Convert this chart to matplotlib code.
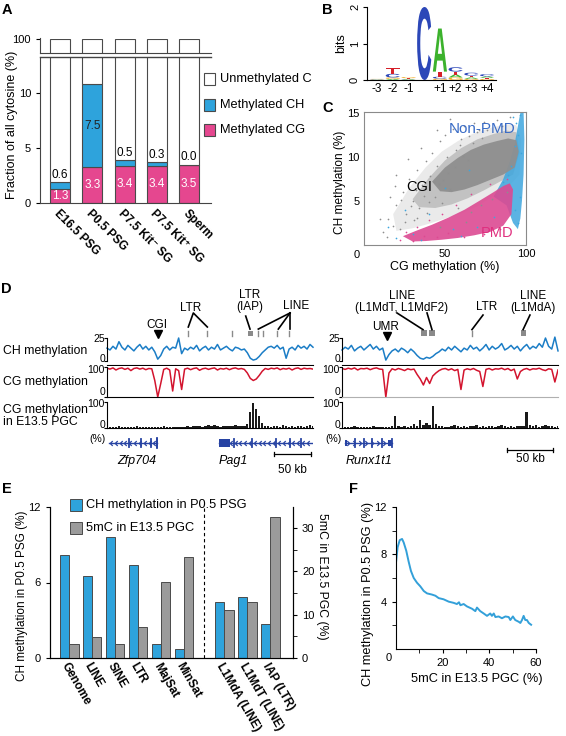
import matplotlib
matplotlib.use('Agg')
import matplotlib.pyplot as plt
import numpy as np
from matplotlib.patches import Rectangle, PathPatch, Polygon
from matplotlib.textpath import TextPath
from matplotlib.font_manager import FontProperties
from matplotlib.transforms import Affine2D
from matplotlib.path import Path

plt.rcParams['font.family'] = ['Liberation Sans', 'DejaVu Sans']
plt.rcParams['font.size'] = 8.5
plt.rcParams['axes.linewidth'] = 0.8
plt.rcParams['xtick.labelsize'] = 8
plt.rcParams['ytick.labelsize'] = 8

# ---------------- data ----------------
# A: fraction of methylated cytosine
samples = ['E16.5 PSG', 'P0.5 PSG', 'P7.5 Kit\u207b SG', 'P7.5 Kit\u207a SG', 'Sperm']
meth_cg = [1.3, 3.3, 3.4, 3.4, 3.5]
meth_ch = [0.6, 7.5, 0.5, 0.3, 0.0]

# B: sequence logo (bits)
logo_labels = ['-3', '-2', '-1', '', '+1', '+2', '+3', '+4']
bits_A = [0.01, 0.03, 0.02, 0.00, 1.18, 0.08, 0.04, 0.04]
bits_C = [0.01, 0.10, 0.01, 2.00, 0.05, 0.12, 0.08, 0.06]
bits_G = [0.01, 0.04, 0.03, 0.00, 0.04, 0.07, 0.03, 0.03]
bits_T = [0.01, 0.15, 0.02, 0.00, 0.14, 0.08, 0.05, 0.03]

# C: CG vs CH methylation clouds (envelopes + sparse points)
gray_halo_cg = [18, 28, 38, 48, 58, 68, 78, 88, 94, 97, 96, 90, 80, 70, 60, 50, 40, 30, 20]
gray_halo_ch = [3.5, 6.5, 8.8, 10.6, 11.8, 12.7, 13.3, 13.7, 13.6, 12.0, 8.0, 6.8, 5.6, 4.4, 3.6, 3.0, 2.4, 1.9, 1.6]
gray_mid_cg = [30, 40, 50, 60, 70, 80, 88, 94, 96, 92, 84, 74, 64, 54, 44, 34]
gray_mid_ch = [5.2, 7.6, 9.6, 11.0, 12.0, 12.6, 13.0, 12.8, 10.5, 8.0, 7.2, 6.2, 5.3, 4.6, 4.2, 4.3]
gray_core_cg = [42, 50, 58, 66, 74, 82, 89, 94, 95.5, 93, 86, 78, 70, 62, 54, 47]
gray_core_ch = [7.2, 8.8, 9.9, 10.8, 11.4, 11.8, 12.1, 11.9, 10.6, 8.8, 8.0, 7.4, 6.8, 6.3, 6.0, 6.1]
blue_band_cg = [80, 86, 90, 93, 95, 96.5, 98.5, 99, 98.5, 97.5, 96.5, 95, 92, 88]
blue_band_ch = [5.5, 7.5, 9.5, 11.5, 13.5, 15.0, 15.1, 12.0, 8.0, 5.0, 3.0, 1.8, 2.5, 4.5]
pink_core_cg = [24, 32, 42, 52, 62, 72, 80, 86, 90, 92, 91, 86, 78, 68, 58, 48, 38, 30]
pink_core_ch = [1.0, 1.6, 2.3, 3.1, 4.0, 5.1, 6.0, 6.7, 7.0, 6.3, 3.5, 2.2, 1.5, 1.1, 0.8, 0.6, 0.45, 0.4]
gray_pts_cg = [12, 15, 18, 20, 22, 24, 26, 28, 30, 31, 33, 34, 36, 38, 39, 41, 42, 44, 45, 47, 48, 50, 52, 53, 55,
               57, 58, 60, 62, 64, 66, 68, 70, 72, 74, 76, 79, 82, 85, 88, 90, 20, 16, 35, 45, 27, 10, 53, 63, 47,
               23, 29, 32, 37, 43, 49, 56, 61, 67, 73, 25, 19, 40, 46, 51, 59, 65, 71, 14, 33]
gray_pts_ch = [1.5, 3.0, 2.2, 4.5, 1.8, 6.0, 3.5, 7.5, 5.0, 2.8, 8.5, 4.2, 6.8, 9.5, 3.6, 7.8, 10.5, 5.5, 9.0, 11.8,
               4.8, 12.5, 8.2, 6.4, 13.2, 10.8, 4.2, 12.0, 13.5, 9.6, 3.8, 13.8, 12.8, 4.5, 14.0, 13.0, 5.2, 14.2,
               13.5, 6.0, 14.5, 8.0, 5.5, 11.0, 13.0, 9.8, 3.0, 14.3, 2.6, 2.0,
               5.1, 4.4, 6.2, 5.6, 7.1, 7.4, 8.9, 10.1, 11.6, 12.2, 2.6, 6.7, 4.9, 6.9, 10.0, 11.3, 12.4, 13.1, 0.9,
               3.1]
blue_pts_cg = [92, 94, 95, 96, 93, 97, 91, 89, 86, 93, 95, 96, 20, 15, 35, 40, 60, 70, 80, 30, 25, 50, 65, 55]
blue_pts_ch = [14.5, 13.8, 12.5, 14.8, 11.2, 10.5, 9.0, 8.0, 7.2, 4.0, 2.5, 5.5, 0.8, 2.0, 0.6, 3.5, 1.0, 2.0, 3.2,
               1.2, 4.0, 6.5, 8.5, 1.8]
pink_pts_cg = [22, 26, 30, 33, 37, 40, 45, 48, 52, 57, 62, 66, 74, 78, 84, 88]
pink_pts_ch = [0.6, 1.5, 0.4, 2.0, 1.0, 2.8, 0.9, 3.5, 1.4, 4.5, 0.9, 5.8, 1.3, 6.9, 1.8, 7.5]

# D: genome browser tracks (left locus ~278 kb, right locus ~235 kb)
left_ch = [14, 12, 16, 13, 21, 15, 12, 17, 14, 11, 15, 18, 13, 16, 12, 15, 10, 2, 6, 13, 16, 12, 15, 14, 25, 8,
           14, 12, 15, 13, 17, 11, 14, 16, 12, 15, 13, 18, 12, 14, 16, 13, 11, 15, 14, 12, 13, 9, 3, 1, 2, 5, 9,
           12, 15, 16, 14, 17, 13, 15, 3, 13, 15, 12, 17, 14, 16, 13, 18, 15]
left_cg = [96, 93, 97, 90, 95, 97, 92, 96, 88, 95, 97, 93, 96, 91, 95, 94, 55, 0, 45, 92, 96, 90, 20, 94, 88, 25,
           93, 96, 91, 95, 97, 89, 94, 96, 92, 95, 97, 90, 95, 93, 96, 91, 95, 97, 93, 95, 92, 80, 62, 55, 60, 72,
           86, 95, 92, 96, 94, 97, 91, 95, 93, 96, 90, 95, 97, 92, 96, 94, 95, 93]
left_pgc = [3, 5, 2, 4, 6, 3, 2, 5, 4, 3, 6, 2, 4, 3, 5, 4, 3, 2, 4, 6, 3, 5, 4, 2, 3, 5, 4, 7, 5, 6, 9, 8, 5, 6,
            10, 7, 12, 6, 5, 8, 9, 6, 7, 11, 8, 6, 9, 15, 60, 95, 72, 45, 18, 6, 8, 5, 9, 7, 4, 10, 6, 5, 8, 4, 7,
            9, 5, 6, 10, 7]
right_ch = [12, 15, 13, 17, 11, 14, 16, 12, 15, 18, 13, 16, 12, 14, 1, 7, 11, 13, 10, 14, 12, 9, 13, 10, 6, 3, 2,
            4, 3, 5, 8, 10, 13, 11, 15, 12, 16, 13, 10, 14, 12, 17, 13, 15, 11, 14, 18, 12, 16, 13, 15, 19, 12, 14,
            17, 13, 16, 11, 15, 18, 13, 16, 14, 19, 15, 25, 16, 13, 26, 11]
right_cg = [95, 92, 96, 93, 97, 90, 95, 94, 96, 91, 95, 97, 93, 92, 0, 80, 94, 90, 95, 92, 88, 94, 91, 93, 75, 60,
            40, 65, 45, 70, 80, 88, 93, 95, 90, 94, 88, 92, 25, 90, 94, 91, 95, 89, 85, 35, 92, 95, 90, 94, 93, 96,
            91, 95, 88, 93, 60, 85, 92, 95, 90, 94, 93, 96, 91, 88, 94, 92, 50, 90]
right_pgc = [3, 5, 4, 2, 6, 4, 3, 5, 2, 4, 6, 3, 5, 4, 2, 3, 8, 45, 8, 5, 7, 4, 9, 14, 8, 30, 12, 18, 10, 85, 15,
             6, 8, 5, 4, 7, 10, 6, 5, 9, 4, 6, 8, 12, 5, 7, 4, 6, 9, 5, 8, 13, 6, 4, 7, 5, 8, 6, 9, 60, 10, 7, 12,
             5, 8, 10, 6, 9, 5, 7]
left_span_kb = 278
right_span_kb = 235
left_repeats = [109.7, 135.4, 168.3, 204.2, 210.9, 229.0, 246.0]
left_iap = (190.7, 197.4)
right_line_blocks = [(86.0, 92.5), (95.0, 101.6), (194.7, 200.2)]
right_ltr = [141.4]

# E: repeat classes
rep_names = ['Genome', 'LINE', 'SINE', 'LTR', 'MajSat', 'MinSat', 'L1MdA (LINE)', 'L1MdT (LINE)', 'IAP (LTR)']
ch_p05 = [8.2, 6.55, 9.65, 7.4, 1.1, 0.72, 4.48, 4.82, 2.7]
mc_pgc = [3.2, 4.9, 3.2, 7.2, 17.5, 23.3, 11.2, 13.0, 32.5]

# F: CH methylation vs PGC 5mC
f_x = [0, 0.7, 1.6, 2.6, 3.3, 4.4, 5.4, 6.4, 7.6, 9.0, 10.4, 11.9, 13.3, 15.4, 16.9, 18.3, 20.4, 22.6, 24.7,
       26.1, 27.0, 27.6, 29.0, 30.4, 32.6, 34.0, 34.7, 36.1, 37.6, 39.0, 40.4, 41.1, 41.9, 42.6, 44.0, 45.4,
       46.9, 48.3, 49.0, 50.1, 51.1, 52.6, 53.3, 54.0, 54.7, 55.4, 56.1, 56.9, 57.9]
f_y = [7.3, 8.6, 9.2, 9.3, 9.0, 8.3, 7.4, 6.6, 6.0, 5.6, 5.3, 4.9, 4.7, 4.6, 4.5, 4.3, 4.2, 4.0, 3.9, 3.8, 3.95,
       3.7, 3.8, 3.6, 3.4, 3.2, 3.5, 3.2, 3.0, 2.8, 3.0, 2.8, 3.0, 2.7, 2.75, 2.6, 2.75, 2.7, 2.45, 2.75, 2.45,
       2.3, 2.2, 2.45, 2.8, 2.45, 2.45, 2.2, 2.05]

# ---------------- style ----------------
BLUE = '#2ea3dc'
PINK = '#e5478f'
GRAY = '#9b9b9b'
EDGE = '#4a4a4a'
TRACK_BLUE = '#1b7dc6'
TRACK_RED = '#d3142e'
GENE = '#2743a3'

W, H = 566, 736
fig = plt.figure(figsize=(W / 100, H / 100), dpi=100)


def px_axes(x0, y0, x1, y1):
    return fig.add_axes([x0 / W, 1 - y1 / H, (x1 - x0) / W, (y1 - y0) / H])


def ftext(x, y, s, **kw):
    return fig.text(x / W, 1 - y / H, s, **kw)


for lab, (lx, ly) in zip('ABCDEF', [(2, 3), (322, 3), (322, 101), (1, 282), (2, 482), (349, 482)]):
    ftext(lx, ly, lab, fontsize=10.5, fontweight='bold', va='top')

# ---------------- A ----------------
xa = np.arange(len(samples))
bw = 0.62
cg = np.array(meth_cg)
ch = np.array(meth_ch)
unmeth = 100 - cg - ch
axA = px_axes(40, 57, 211, 203)
axAt = px_axes(40, 38.5, 211, 53)
for ax in (axA, axAt):
    ax.bar(xa, cg, bw, color=PINK, edgecolor=EDGE, lw=0.8)
    ax.bar(xa, ch, bw, bottom=cg, color=BLUE, edgecolor=EDGE, lw=0.8)
    ax.bar(xa, unmeth, bw, bottom=cg + ch, color='white', edgecolor=EDGE, lw=0.8)
    ax.set_xlim(-0.62, 4.68)
    ax.spines['right'].set_visible(False)
    for s in ax.spines.values():
        s.set_color('#444444')
axA.set_ylim(0, 13.3)
axAt.set_ylim(97, 100.1)
axA.spines['top'].set_linewidth(1.0)
axAt.spines['top'].set_visible(False)
axAt.set_xticks([])
axAt.set_yticks([100])
axA.set_yticks([0, 5, 10])
axA.tick_params(axis='y', length=3)
axAt.tick_params(axis='y', length=3)
axA.set_xticks(xa)
axA.set_xticklabels(samples, rotation=-45, ha='left', va='top', rotation_mode='anchor',
                    fontweight='bold', fontsize=8.5)
axA.tick_params(axis='x', length=0, pad=3)
for i in range(len(samples)):
    axA.text(xa[i], cg[i] / 2, f'{cg[i]:.1f}', color='white', ha='center', va='center', fontsize=8.5)
    if ch[i] > 2:
        axA.text(xa[i], cg[i] + ch[i] / 2, f'{ch[i]:.1f}', color='#222222', ha='center', va='center', fontsize=8.5)
    else:
        axA.text(xa[i], cg[i] + ch[i] + 0.12, f'{ch[i]:.1f}', color='black', ha='center', va='bottom',
                 fontsize=8.5)
ftext(12, 125, 'Fraction of all cytosine (%)', rotation=90, ha='center', va='center', fontsize=9)
for (lab, col), ly in zip([('Unmethylated C', 'white'), ('Methylated CH', BLUE), ('Methylated CG', PINK)],
                          [79, 105, 130]):
    fig.patches.append(Rectangle((204 / W, 1 - (ly + 5.5) / H), 11 / W, 11 / H, transform=fig.transFigure,
                                 facecolor=col, edgecolor=EDGE, lw=0.8))
    ftext(220, ly, lab, va='center', fontsize=9.2)

# ---------------- B ----------------
axB = px_axes(367, 7, 496, 80)
logo_colors = {'A': '#3cb22c', 'C': '#2c47b8', 'G': '#f2a81c', 'T': '#d5202a'}
logo_bits = {'A': bits_A, 'C': bits_C, 'G': bits_G, 'T': bits_T}
fp = FontProperties(family='Liberation Sans', weight='bold')


def draw_letter(ax, ch_, x, y, w, h, color):
    if h <= 0:
        return
    tp = TextPath((0, 0), ch_, size=1, prop=fp)
    bb = tp.get_extents()
    tr = Affine2D().translate(-bb.x0, -bb.y0).scale(w / bb.width, h / bb.height).translate(x - w / 2, y)
    ax.add_patch(PathPatch(tr.transform_path(tp), facecolor=color, edgecolor='none'))


for i in range(len(logo_labels)):
    order = sorted('ACGT', key=lambda b: logo_bits[b][i])
    base = 0.0
    for b in order:
        h = logo_bits[b][i]
        draw_letter(axB, b, i, base, 0.9, h, logo_colors[b])
        base += h
axB.set_xlim(-0.64, 7.57)
axB.set_ylim(0, 2)
axB.spines['top'].set_visible(False)
axB.spines['right'].set_visible(False)
axB.set_xticks(range(len(logo_labels)))
axB.set_xticklabels(logo_labels, fontsize=8.5)
axB.tick_params(axis='x', length=0, pad=2)
axB.set_yticks([0, 1, 2])
axB.set_yticklabels(['0', '1', '2'], rotation=90, va='center', fontsize=8)
axB.tick_params(axis='y', length=3, pad=2)
axB.set_ylabel('bits', fontsize=9, labelpad=2)

# ---------------- C ----------------
axC = px_axes(364, 112, 526, 245)
axC.add_patch(Polygon(np.column_stack([gray_halo_cg, gray_halo_ch]), closed=True, facecolor='#c4c4c4',
                      edgecolor='none', alpha=0.35))
axC.add_patch(Polygon(np.column_stack([gray_mid_cg, gray_mid_ch]), closed=True, facecolor='#a8a8a8',
                      edgecolor='none', alpha=0.6))
axC.add_patch(Polygon(np.column_stack([blue_band_cg, blue_band_ch]), closed=True, facecolor='#3ea6de',
                      edgecolor='none', alpha=0.85))
axC.add_patch(Polygon(np.column_stack([gray_core_cg, gray_core_ch]), closed=True, facecolor='#8f8f8f',
                      edgecolor='none', alpha=0.95))
axC.add_patch(Polygon(np.column_stack([pink_core_cg, pink_core_ch]), closed=True, facecolor='#dc4a92',
                      edgecolor='none', alpha=0.9))
axC.scatter(gray_pts_cg, gray_pts_ch, s=1.5, color='#8e8e8e', lw=0)
axC.scatter(blue_pts_cg, blue_pts_ch, s=1.5, color='#3da6de', lw=0)
axC.scatter(pink_pts_cg, pink_pts_ch, s=1.5, color='#dc4a92', lw=0)
axC.set_xlim(0, 100)
axC.set_ylim(0, 15.1)
axC.set_xticks([50, 100])
axC.set_yticks([5, 10, 15])
axC.tick_params(length=0, pad=3)
for s in axC.spines.values():
    s.set_color('#8a8a8a')
ftext(357, 255, '0', ha='center', va='center', fontsize=8)
axC.text(73, 13.2, 'Non-PMD', color='#3a6cc6', fontsize=11, ha='center', va='center')
axC.text(34, 6.6, 'CGI', color='black', fontsize=10.5, ha='center', va='center')
axC.text(82, 1.4, 'PMD', color='#e0307f', fontsize=10.5, ha='center', va='center')
ftext(445, 267, 'CG methylation (%)', ha='center', va='center', fontsize=9)
ftext(340, 182, 'CH methylation (%)', rotation=90, ha='center', va='center', fontsize=8.6)

# ---------------- D ----------------
chevron_l = Path([(0.5, 1), (-0.5, 0), (0.5, -1)], [Path.MOVETO, Path.LINETO, Path.LINETO])
chevron_r = Path([(-0.5, 1), (0.5, 0), (-0.5, -1)], [Path.MOVETO, Path.LINETO, Path.LINETO])


def draw_tracks(x0, x1, span, ch_vals, cg_vals, pgc_vals, base_col):
    kb = np.linspace(0, span, len(ch_vals))
    a1 = px_axes(x0, 336, x1, 365)
    a1.plot(kb, ch_vals, color=TRACK_BLUE, lw=1.1, clip_on=False)
    a1.set_ylim(-4.35, 27.2)
    a1.spines['left'].set_bounds(0, 25)
    a2 = px_axes(x0, 366, x1, 397)
    a2.plot(kb, cg_vals, color=TRACK_RED, lw=1.1)
    a2.set_ylim(0, 103.3)
    a2.spines['left'].set_bounds(0, 100)
    a2.spines['bottom'].set_color(base_col)
    a3 = px_axes(x0, 401, x1, 428)
    a3.bar(kb, pgc_vals, width=span / len(pgc_vals) * 0.8, color='#1a1a1a', lw=0)
    a3.set_ylim(0, 103.8)
    a3.spines['left'].set_bounds(0, 100)
    for a in (a1, a2, a3):
        a.set_xlim(0, span)
        a.set_xticks([])
        a.spines['top'].set_visible(False)
        a.spines['right'].set_visible(False)
        a.tick_params(axis='y', length=2)
    # tick values written beside the short left axes
    for a, (lo, hi) in ((a1, (0, 25)), (a2, (0, 100)), (a3, (0, 100))):
        a.set_yticks([lo, hi])
        a.set_yticklabels([])
    lx = x0 - 2
    ftext(lx, 339, '25', ha='right', va='center', fontsize=7.5)
    ftext(lx, 358.5, '0', ha='right', va='center', fontsize=7.5)
    ftext(lx, 370, '100', ha='right', va='center', fontsize=7.5)
    ftext(lx, 392, '0', ha='right', va='center', fontsize=7.5)
    ftext(lx, 404, '100', ha='right', va='center', fontsize=7.5)
    ftext(lx, 425, '0', ha='right', va='center', fontsize=7.5)


draw_tracks(107, 313, left_span_kb, left_ch, left_cg, left_pgc, 'black')
draw_tracks(342, 558, right_span_kb, right_ch, right_cg, right_pgc, '#b0b0b0')

ftext(3, 351, 'CH methylation', va='center', fontsize=8.8)
ftext(3, 382, 'CG methylation', va='center', fontsize=8.8)
ftext(3, 416, 'CG methylation\nin E13.5 PGC', va='center', fontsize=8.8, linespacing=1.1)
ftext(97, 439, '(%)', ha='center', va='center', fontsize=7.5)
ftext(334, 439, '(%)', ha='center', va='center', fontsize=7.5)

# annotation rows
annL = px_axes(107, 288, 313, 340)
annR = px_axes(342, 288, 558, 340)
for a, span in ((annL, left_span_kb), (annR, right_span_kb)):
    a.set_xlim(0, span)
    a.set_ylim(0, 1)
    a.axis('off')
for p in left_repeats:
    annL.plot([p, p], [0.07, 0.17], color='#8a8a8a', lw=1.0)
annL.add_patch(Rectangle((left_iap[0], 0.07), left_iap[1] - left_iap[0], 0.1, color='#8a8a8a', lw=0))
annL.plot([68.4], [0.11], marker='v', color='black', ms=6)
annL.text(67.5, 0.29, 'CGI', ha='center', va='center', fontsize=8.5)
annL.text(113.4, 0.62, 'LTR', ha='center', va='center', fontsize=8.5)
annL.plot([109.7, 116.5, 135.4], [0.25, 0.52, 0.25], color='black', lw=1.2)
annL.text(192, 0.75, 'LTR\n(IAP)', ha='center', va='center', fontsize=8.5, linespacing=0.95)
annL.plot([187.2, 193], [0.46, 0.21], color='black', lw=1.2)
annL.text(255, 0.66, 'LINE', ha='center', va='center', fontsize=8.5)
for p in (204.2, 231.2, 247):
    annL.plot([247, p], [0.52, 0.21], color='black', lw=1.2)

for b0, b1 in right_line_blocks:
    annR.add_patch(Rectangle((b0, 0.08), b1 - b0, 0.11, color='#8a8a8a', lw=0))
for p in right_ltr:
    annR.plot([p, p], [0.08, 0.17], color='#8a8a8a', lw=1.0)
annR.plot([49], [0.07], marker='v', color='black', ms=6, clip_on=False)
annR.text(47, 0.25, 'UMR', ha='center', va='center', fontsize=8.5)
annR.text(65.3, 0.73, 'LINE\n(L1MdT, L1MdF2)', ha='center', va='center', fontsize=8.5, linespacing=0.95)
annR.plot([59.8, 88.1], [0.52, 0.2], color='black', lw=1.2)
annR.plot([92.5, 97.9], [0.52, 0.2], color='black', lw=1.2)
annR.text(157.8, 0.63, 'LTR', ha='center', va='center', fontsize=8.5)
annR.plot([153.4, 141.4], [0.48, 0.2], color='black', lw=1.2)
annR.text(207.8, 0.73, 'LINE\n(L1MdA)', ha='center', va='center', fontsize=8.5, linespacing=0.95)
annR.plot([204.5, 197], [0.48, 0.2], color='black', lw=1.2)

# genes
genL = px_axes(107, 436, 313, 475)
genR = px_axes(342, 436, 558, 475)
for a, span in ((genL, left_span_kb), (genR, right_span_kb)):
    a.set_xlim(0, span)
    a.set_ylim(0, 1)
    a.axis('off')


def draw_gene(ax, start, end, exons, leftward, yg=0.82):
    ax.plot([start, end], [yg, yg], color=GENE, lw=1.0)
    marks = np.arange(start + 3, end - 2, 6.5)
    ax.plot(marks, np.full(len(marks), yg), ls='none', marker=chevron_l if leftward else chevron_r,
            ms=3.5, mec=GENE, mfc='none', mew=0.9)
    for e in exons:
        ax.plot([e, e], [yg - 0.1, yg + 0.1], color=GENE, lw=1.3)


draw_gene(genL, 2.4, 67.5, [30, 46, 60, 67.5], True)
genL.plot([67.5, 67.5], [0.68, 0.96], color=GENE, lw=1.3)
draw_gene(genL, 151, 278, [172, 196, 228, 247, 262], True)
genL.add_patch(Rectangle((151, 0.72), 15, 0.2, color=GENE, lw=0))
draw_gene(genR, 3.3, 54.4, [14, 24, 33, 43, 54.4], False)
genR.add_patch(Rectangle((3.3, 0.74), 2.5, 0.16, color=GENE, lw=0))
genR.add_patch(Rectangle((50.5, 0.74), 4, 0.16, color=GENE, lw=0))
genL.text(40, 0.36, 'Zfp704', style='italic', ha='center', va='center', fontsize=9)
genL.text(170, 0.36, 'Pag1', style='italic', ha='center', va='center', fontsize=9)
genR.text(29.4, 0.36, 'Runx1t1', style='italic', ha='center', va='center', fontsize=9)
genL.plot([225.4, 275.4], [0.54, 0.54], color='black', lw=0.9)
genL.plot([225.4, 225.4], [0.48, 0.6], color='black', lw=0.9)
genL.plot([275.4, 275.4], [0.48, 0.6], color='black', lw=0.9)
genL.text(250.4, 0.14, '50 kb', ha='center', va='center', fontsize=8.5)
genR.plot([179.5, 229.5], [0.64, 0.64], color='black', lw=0.9)
genR.plot([179.5, 179.5], [0.58, 0.7], color='black', lw=0.9)
genR.plot([229.5, 229.5], [0.58, 0.7], color='black', lw=0.9)
genR.text(204.5, 0.4, '50 kb', ha='center', va='center', fontsize=8.5)

# ---------------- E ----------------
axE = px_axes(50, 507, 293, 658)
axE2 = axE.twinx()
pos = np.array([0, 1, 2, 3, 4, 5, 6.75, 7.75, 8.75])
axE.bar(pos - 0.2, ch_p05, 0.4, color=BLUE, edgecolor=EDGE, lw=0.7)
axE2.bar(pos + 0.2, mc_pgc, 0.4, color=GRAY, edgecolor=EDGE, lw=0.7)
axE.set_xlim(-0.84, 9.73)
axE.set_ylim(0, 12)
axE2.set_ylim(0, 34.9)
axE.axvline(5.86, color='black', ls=(0, (3, 2.5)), lw=0.8)
axE.set_yticks([0, 6, 12])
axE2.set_yticks([0, 10, 20, 30])
axE2.set_yticks([5, 15, 25], minor=True)
axE.set_xticks(pos)
axE.set_xticklabels(rep_names, rotation=-60, ha='left', va='top', rotation_mode='anchor',
                    fontweight='bold', fontsize=8.5)
axE.tick_params(axis='x', length=0, pad=2)
axE.tick_params(axis='y', length=3)
axE2.tick_params(axis='y', which='both', length=3)
for a in (axE, axE2):
    a.spines['top'].set_visible(False)
ftext(22, 596, 'CH methylation in P0.5 PSG (%)', rotation=90, ha='center', va='center', fontsize=8.5)
ftext(322, 576, '5mC in E13.5 PGC (%)', rotation=-90, ha='center', va='center', fontsize=8.8)
for (lab, col), ly in zip([('CH methylation in P0.5 PSG', BLUE), ('5mC in E13.5 PGC', GRAY)], [505, 528]):
    fig.patches.append(Rectangle((70 / W, 1 - (ly + 6) / H), 12 / W, 12 / H, transform=fig.transFigure,
                                 facecolor=col, edgecolor=EDGE, lw=0.7))
    ftext(86, ly, lab, va='center', fontsize=9.2)

# ---------------- F ----------------
axF = px_axes(396, 507, 536, 649)
axF.plot(f_x, f_y, color='#33a0d9', lw=1.4)
axF.set_xlim(0, 60)
axF.set_ylim(0, 12)
axF.set_yticks([4, 8, 12])
axF.set_yticks([2, 6, 10], minor=True)
axF.set_xticks([20, 40, 60])
axF.set_xticks([10, 30, 50], minor=True)
axF.tick_params(which='both', length=3)
axF.spines['top'].set_visible(False)
axF.spines['right'].set_visible(False)
ftext(389, 658, '0', ha='center', va='center', fontsize=8)
ftext(477, 679, '5mC in E13.5 PGC (%)', ha='center', va='center', fontsize=9.2)
ftext(368, 594, 'CH methylation in P0.5 PSG (%)', rotation=90, ha='center', va='center', fontsize=9.2)

fig.savefig('out.png', dpi=100)
